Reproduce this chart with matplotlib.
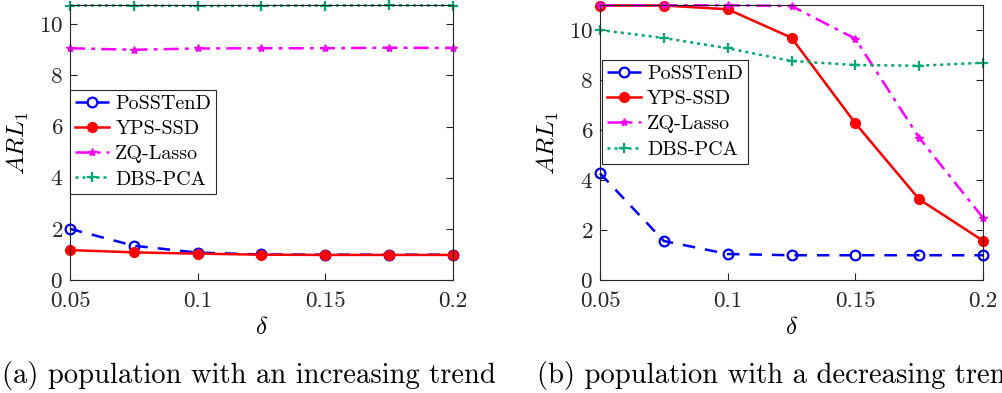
import numpy as np
import matplotlib
matplotlib.use('Agg')
import matplotlib.pyplot as plt

plt.rcParams['font.family'] = 'serif'
plt.rcParams['font.serif'] = ['cmr10']
plt.rcParams['mathtext.fontset'] = 'cm'
plt.rcParams['axes.formatter.use_mathtext'] = True

delta = [0.05, 0.075, 0.1, 0.125, 0.15, 0.175, 0.2]
methods = ['PoSSTenD', 'YPS-SSD', 'ZQ-Lasso', 'DBS-PCA']

# (a) population with an increasing trend
arl_inc_possten = [2.0, 1.34, 1.07, 1.0, 0.99, 0.99, 0.99]
arl_inc_yps = [1.17, 1.08, 1.03, 0.99, 0.98, 0.98, 0.98]
arl_inc_zq = [9.06, 9.0, 9.05, 9.06, 9.06, 9.08, 9.07]
arl_inc_dbs = [10.73, 10.73, 10.71, 10.72, 10.73, 10.74, 10.73]

# (b) population with a decreasing trend
arl_dec_possten = [4.27, 1.56, 1.04, 0.99, 0.99, 0.99, 0.99]
arl_dec_yps = [10.98, 10.98, 10.83, 9.69, 6.27, 3.23, 1.57]
arl_dec_zq = [10.99, 10.99, 10.99, 10.96, 9.65, 5.69, 2.49]
arl_dec_dbs = [10.0, 9.68, 9.27, 8.76, 8.6, 8.57, 8.69]

captions = ['(a) population with an increasing trend',
            '(b) population with a decreasing trend']

styles = [dict(color='#0000ff', ls=(0, (5, 4)), marker='o', mfc='none', mew=1.6, ms=7),
          dict(color='#ff0000', ls='-', marker='o', mfc='#ff0000', ms=7),
          dict(color='#ff00ff', ls=(0, (6, 2.5, 1.5, 2.5)), marker='*', ms=6),
          dict(color='#00aa6e', ls=(0, (1.2, 1.6)), marker='+', mew=1.6, ms=7)]

fig = plt.figure(figsize=(10.03, 3.93), dpi=100)
W, H = 1003, 393
ax1 = fig.add_axes([70 / W, 1 - 280 / H, 383 / W, 275 / H])
ax2 = fig.add_axes([600 / W, 1 - 280 / H, 383 / W, 275 / H])

panels = [(ax1, [arl_inc_possten, arl_inc_yps, arl_inc_zq, arl_inc_dbs], 10.75, (0, 0.691)),
          (ax2, [arl_dec_possten, arl_dec_yps, arl_dec_zq, arl_dec_dbs], 11.0, (0.005, 0.8))]

for ax, series, ytop, legpos in panels:
    for name, vals, st in zip(methods, series, styles):
        ax.plot(delta, vals, lw=1.8, label=name, clip_on=False, **st)
    ax.set_xlim(0.05, 0.2)
    ax.set_ylim(0, ytop)
    ax.set_xticks([0.05, 0.1, 0.15, 0.2])
    ax.set_xticklabels(['0.05', '0.1', '0.15', '0.2'])
    ax.set_yticks([0, 2, 4, 6, 8, 10])
    ax.tick_params(labelsize=16.6, direction='in', length=5, width=0.8, colors='#262626',
                   top=False, right=True)
    ax.tick_params(axis='x', pad=8.5)
    ax.tick_params(axis='y', pad=5)
    for sp in ax.spines.values():
        sp.set_color('#262626')
        sp.set_linewidth(0.8)
    ax.set_xlabel(r'$\delta$', fontsize=18, labelpad=4)
    ax.set_ylabel(r'$ARL_1$', fontsize=18, labelpad=6)
    leg = ax.legend(loc='upper left', bbox_to_anchor=legpos,
                    fontsize=14.5, handlelength=1.7, handletextpad=0.3, labelspacing=0.35,
                    borderpad=0.25, borderaxespad=0, fancybox=False, framealpha=1)
    leg.get_frame().set_edgecolor('#262626')
    leg.get_frame().set_linewidth(0.8)

fig.text(2 / W, 1 - 375 / H, captions[0], fontsize=20.6, va='center', ha='left')
fig.text(537 / W, 1 - 375 / H, captions[1], fontsize=20.6, va='center', ha='left')

fig.savefig('out.png', dpi=100)
